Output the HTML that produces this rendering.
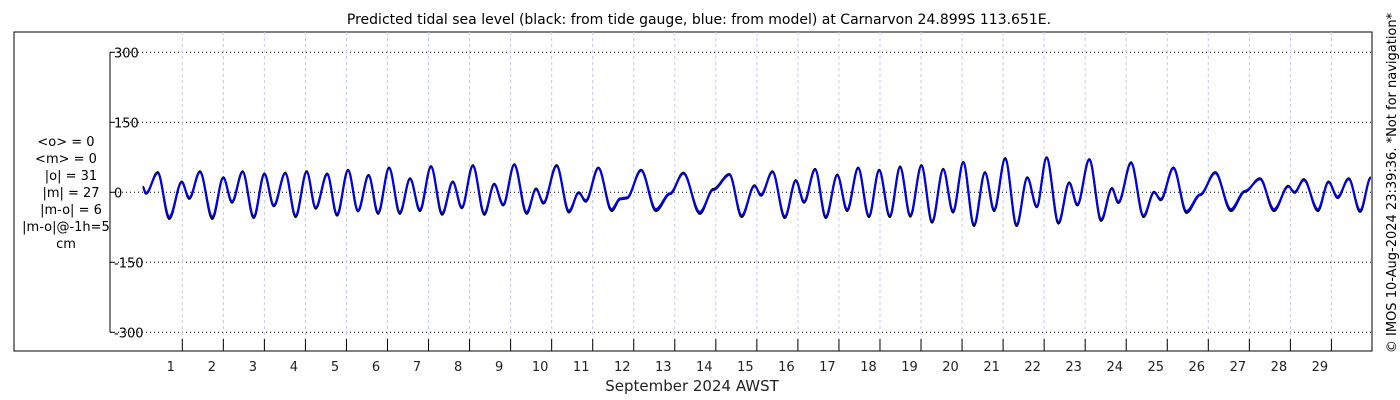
<!DOCTYPE html>
<html><head><meta charset="utf-8">
<style>
html,body{margin:0;padding:0;background:#fff;}
svg{display:block;font-family:"DejaVu Sans","Liberation Sans",sans-serif;}
</style></head>
<body>
<svg id="chart" width="1400" height="400" viewBox="0 0 1400 400" xmlns="http://www.w3.org/2000/svg">
<text x="699" y="24" font-size="14" text-anchor="middle" fill="#000">Predicted tidal sea level (black: from tide gauge, blue: from model) at Carnarvon 24.899S 113.651E.</text>
<rect x="14" y="32" width="1358" height="319" fill="none" stroke="#000" stroke-width="1"/>
<g id="grid"></g>
<g id="axes"></g>
<g id="series"></g>
<g font-size="13" text-anchor="middle" fill="#000">
<text x="66" y="146">&lt;o&gt; = 0</text>
<text x="66" y="163">&lt;m&gt; = 0</text>
<text x="71" y="180">|o| = 31</text>
<text x="71" y="197">|m| = 27</text>
<text x="71" y="214">|m-o| = 6</text>
<text x="66" y="231">|m-o|@-1h=5</text>
<text x="66" y="248">cm</text>
</g>
<text x="692" y="391" font-size="15" text-anchor="middle" fill="#222">September 2024 AWST</text>
<text transform="translate(1396,183) rotate(-90)" font-size="13" text-anchor="middle" fill="#000">© IMOS 10-Aug-2024 23:39:36. *Not for navigation*</text>
</svg>
<script>
const dayLabels = [1,2,3,4,5,6,7,8,9,10,11,12,13,14,15,16,17,18,19,20,21,22,23,24,25,26,27,28,29];
const yTicks = [300,150,0,-150,-300];
const times = [0.035,0.116,0.40,0.683,0.985,1.17,1.43,1.73,2.0,2.21,2.47,2.74,3.0,3.23,3.51,3.76,4.03,4.25,4.53,4.77,5.04,5.28,5.54,5.77,6.04,6.30,6.55,6.79,7.06,7.33,7.59,7.81,8.08,8.36,8.60,8.82,9.09,9.39,9.62,9.80,10.12,10.42,10.66,10.83,11.14,11.46,11.67,11.83,12.18,12.54,12.88,13.21,13.61,13.94,14.33,14.63,14.94,15.10,15.38,15.68,15.95,16.15,16.42,16.68,16.96,17.20,17.47,17.73,17.98,18.24,18.49,18.74,19.01,19.27,19.54,19.78,20.03,20.29,20.56,20.78,21.05,21.33,21.59,21.82,22.06,22.35,22.61,22.81,23.10,23.39,23.65,23.81,24.12,24.42,24.68,24.84,25.15,25.47,25.80,26.17,26.55,26.89,27.26,27.60,27.95,28.10,28.33,28.67,28.93,29.15,29.42,29.70,29.96];
const modelLevel = [10,-1,41,-52,21,-11,43,-52,30,-19,43,-51,38,-27,40,-49,43,-32,38,-46,46,-38,35,-42,51,-42,28,-36,54,-44,21,-31,56,-44,16,-25,58,-42,6,-21,56,-39,-2,-17,51,-36,-13,-11,46,-36,-2,40,-42,5,37,-49,13,-4,43,-51,24,-19,48,-51,36,-36,51,-49,46,-49,53,-48,56,-61,48,-39,63,-68,41,-36,71,-68,30,-29,73,-63,19,-25,69,-57,7,-20,62,-49,-1,-14,51,-40,-4,41,-36,3,28,-36,12,1,26,-36,21,-9,28,-38,30];
const obsLevel = [12,-3,43,-57,23,-14,45,-57,32,-22,45,-55,40,-30,42,-53,45,-35,40,-50,48,-41,37,-46,53,-46,30,-40,56,-48,23,-34,58,-48,18,-28,60,-46,8,-24,58,-43,0,-20,53,-40,-15,-13,48,-40,-4,42,-46,7,39,-53,15,-7,45,-55,26,-22,50,-55,38,-40,53,-53,48,-53,55,-52,58,-65,50,-43,65,-72,43,-40,73,-72,32,-32,75,-67,21,-28,71,-61,9,-23,64,-53,1,-17,53,-44,-6,43,-40,1,30,-40,14,-1,28,-40,23,-12,30,-42,32];

const NS="http://www.w3.org/2000/svg";
const X0=110, X1=1372, YT=32, YB=351;
function xs(t){return 182.3+41.04*(t-1);}
function ys(v){return 192.3-v*70/150;}
function mk(tag,attrs,parent){const e=document.createElementNS(NS,tag);for(const k in attrs)e.setAttribute(k,attrs[k]);parent.appendChild(e);return e;}
const grid=document.getElementById('grid'), axes=document.getElementById('axes'), series=document.getElementById('series');

yTicks.forEach(v=>{
  const g=mk('line',{x1:X0,x2:X1,y1:ys(v),y2:ys(v),stroke:'#000','stroke-width':1,'stroke-dasharray':'1,3'},grid);
  
  
  const tk=mk('line',{x1:X0,x2:X0+4,y1:ys(v),y2:ys(v),stroke:'#000','stroke-width':1},axes);
  
  
  const lb=mk('text',{x:X0+4,y:ys(v)+5,'font-size':13,fill:'#000'},axes);
  lb.textContent=(v<0?'-':'')+Math.abs(v);
  
  
});
const ya=mk('line',{x1:X0,x2:X0,y1:ys(yTicks[0]),y2:ys(yTicks[yTicks.length-1]),stroke:'#000','stroke-width':1},axes);



dayLabels.forEach(d=>{
  const x=xs(d);
  const g=mk('line',{x1:x,x2:x,y1:YT,y2:YB,stroke:'#c4c8ec','stroke-width':1,'stroke-dasharray':'3,3'},grid);
  
  
  const tk=mk('line',{x1:x,x2:x,y1:YB-12,y2:YB,stroke:'#000','stroke-width':1},axes);
  
  
  const lb=mk('text',{x:x-11.5,y:YB+20,'font-size':13,'text-anchor':'middle',fill:'#222'},axes);
  lb.textContent=d;
  
  
});

function pathFor(vals){
  let d='M'+xs(times[0]).toFixed(1)+','+ys(vals[0]).toFixed(1);
  for(let i=1;i<times.length;i++){
    const xa=xs(times[i-1]), xb=xs(times[i]), ya=ys(vals[i-1]), yb=ys(vals[i]);
    const dx=(xb-xa)/3;
    d+=' C'+(xa+dx).toFixed(1)+','+ya.toFixed(1)+' '+(xb-dx).toFixed(1)+','+yb.toFixed(1)+' '+xb.toFixed(1)+','+yb.toFixed(1);
  }
  return d;
}
const po=mk('path',{d:pathFor(obsLevel),fill:'none',stroke:'#000','stroke-width':2.2},series);


const pm=mk('path',{d:pathFor(modelLevel),fill:'none',stroke:'#0000ff','stroke-width':2},series);


</script>
</body></html>
